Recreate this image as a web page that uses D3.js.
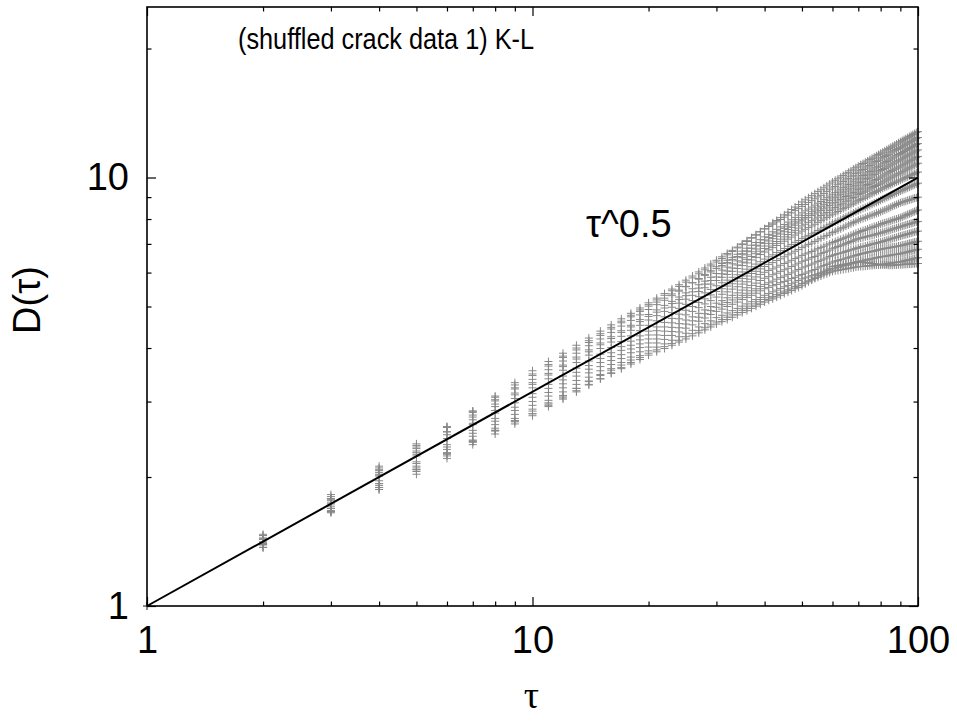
<!DOCTYPE html>
<html lang="en">
<head>
<meta charset="utf-8">
<title>(shuffled crack data 1) K-L</title>
<script src="https://cdn.jsdelivr.net/npm/d3@7"></script>
<style>
  html, body { margin: 0; padding: 0; background: #fff; }
  svg { display: block; font-family: "Liberation Sans", Arial, sans-serif; }
</style>
</head>
<body>
<svg width="957" height="722"></svg>
<script>
// lag tau = 1..100, one D(tau) value per lag for every shuffle
const tau = d3.range(1, 101);

const s01 = [1,1.46,1.80,2.10,2.37,2.62,2.85,3.07,3.28,3.48,3.66,3.83,4.00,4.16,4.32,4.47,4.62,4.77,4.91,5.05,
  5.18,5.31,5.44,5.57,5.70,5.83,5.96,6.09,6.22,6.35,6.47,6.60,6.72,6.85,6.97,7.09,7.22,7.34,7.47,7.59,
  7.71,7.83,7.94,8.06,8.18,8.30,8.42,8.53,8.65,8.77,8.87,8.97,9.07,9.17,9.27,9.36,9.46,9.56,9.66,9.76,
  9.85,9.93,10.02,10.11,10.20,10.28,10.37,10.46,10.54,10.63,10.71,10.78,10.86,10.93,11.01,11.09,11.16,11.24,11.31,11.39,
  11.46,11.54,11.61,11.68,11.76,11.83,11.90,11.97,12.05,12.12,12.19,12.26,12.32,12.39,12.46,12.53,12.60,12.66,12.73,12.80];
const s02 = [1,1.44,1.78,2.08,2.35,2.61,2.85,3.09,3.32,3.54,3.72,3.89,4.06,4.22,4.38,4.53,4.68,4.82,4.96,5.10,
  5.23,5.36,5.49,5.62,5.76,5.89,6.02,6.15,6.28,6.41,6.53,6.65,6.76,6.88,7.00,7.12,7.24,7.35,7.47,7.59,
  7.69,7.78,7.88,7.98,8.08,8.17,8.27,8.37,8.46,8.56,8.65,8.74,8.83,8.92,9.01,9.09,9.18,9.27,9.36,9.45,
  9.53,9.62,9.70,9.79,9.87,9.95,10.04,10.12,10.21,10.29,10.37,10.44,10.52,10.59,10.67,10.75,10.82,10.90,10.97,11.05,
  11.12,11.19,11.26,11.33,11.41,11.48,11.55,11.62,11.69,11.76,11.82,11.89,11.95,12.02,12.08,12.14,12.21,12.27,12.34,12.40];
const s03 = [1,1.47,1.82,2.12,2.39,2.62,2.83,3.03,3.21,3.38,3.56,3.73,3.89,4.05,4.20,4.35,4.50,4.64,4.78,4.92,
  5.05,5.17,5.30,5.43,5.56,5.68,5.81,5.94,6.06,6.19,6.30,6.41,6.51,6.62,6.73,6.84,6.95,7.05,7.16,7.27,
  7.37,7.47,7.57,7.67,7.77,7.87,7.97,8.07,8.17,8.27,8.36,8.44,8.53,8.62,8.71,8.79,8.88,8.97,9.05,9.14,
  9.22,9.30,9.39,9.47,9.55,9.63,9.71,9.80,9.88,9.96,10.03,10.11,10.18,10.25,10.33,10.40,10.47,10.54,10.62,10.69,
  10.76,10.83,10.90,10.97,11.04,11.10,11.17,11.24,11.31,11.38,11.44,11.50,11.57,11.63,11.69,11.75,11.81,11.88,11.94,12.00];
const s04 = [1,1.43,1.76,2.05,2.30,2.55,2.79,3.01,3.23,3.45,3.63,3.80,3.96,4.12,4.28,4.43,4.58,4.73,4.87,5.01,
  5.12,5.23,5.35,5.46,5.57,5.68,5.79,5.91,6.02,6.13,6.23,6.33,6.44,6.54,6.64,6.74,6.84,6.95,7.05,7.15,
  7.24,7.33,7.42,7.51,7.61,7.70,7.79,7.88,7.97,8.06,8.15,8.23,8.32,8.40,8.49,8.57,8.66,8.74,8.83,8.91,
  8.99,9.06,9.14,9.21,9.29,9.36,9.44,9.51,9.59,9.66,9.73,9.80,9.88,9.95,10.02,10.09,10.16,10.24,10.31,10.38,
  10.44,10.50,10.57,10.63,10.69,10.75,10.81,10.88,10.94,11.00,11.06,11.12,11.18,11.24,11.30,11.36,11.42,11.48,11.54,11.60];
const s05 = [1,1.44,1.78,2.07,2.33,2.55,2.76,2.96,3.14,3.32,3.49,3.65,3.81,3.96,4.11,4.25,4.39,4.52,4.66,4.79,
  4.91,5.03,5.14,5.26,5.38,5.50,5.62,5.73,5.85,5.97,6.08,6.18,6.29,6.39,6.50,6.60,6.71,6.81,6.92,7.02,
  7.11,7.20,7.29,7.38,7.47,7.56,7.65,7.74,7.83,7.92,8.00,8.07,8.15,8.22,8.30,8.38,8.45,8.53,8.60,8.68,
  8.75,8.82,8.89,8.96,9.03,9.09,9.16,9.23,9.30,9.37,9.44,9.50,9.57,9.63,9.70,9.76,9.83,9.89,9.96,10.02,
  10.08,10.14,10.20,10.26,10.33,10.39,10.45,10.51,10.57,10.63,10.69,10.74,10.80,10.86,10.92,10.97,11.03,11.09,11.14,11.20];
const s06 = [1,1.41,1.74,2.03,2.28,2.51,2.72,2.92,3.11,3.29,3.46,3.62,3.77,3.92,4.07,4.21,4.35,4.48,4.61,4.74,
  4.85,4.96,5.08,5.19,5.30,5.41,5.52,5.64,5.75,5.86,5.96,6.05,6.15,6.25,6.35,6.44,6.54,6.64,6.73,6.83,
  6.92,7.01,7.09,7.18,7.27,7.36,7.45,7.53,7.62,7.71,7.78,7.86,7.93,8.00,8.08,8.15,8.22,8.29,8.37,8.44,
  8.51,8.58,8.64,8.71,8.78,8.85,8.92,8.98,9.05,9.12,9.18,9.24,9.29,9.35,9.41,9.47,9.53,9.58,9.64,9.70,
  9.76,9.81,9.87,9.92,9.98,10.03,10.09,10.14,10.20,10.25,10.31,10.36,10.42,10.47,10.53,10.58,10.64,10.69,10.75,10.80];
const s07 = [1,1.46,1.77,2.02,2.24,2.46,2.67,2.86,3.05,3.23,3.39,3.55,3.70,3.85,3.99,4.13,4.26,4.40,4.52,4.65,
  4.76,4.87,4.98,5.09,5.20,5.31,5.42,5.53,5.64,5.75,5.85,5.94,6.04,6.13,6.23,6.32,6.42,6.51,6.61,6.70,
  6.78,6.86,6.94,7.02,7.10,7.18,7.26,7.34,7.42,7.50,7.57,7.64,7.71,7.78,7.86,7.93,8.00,8.07,8.14,8.21,
  8.27,8.33,8.40,8.46,8.52,8.58,8.64,8.71,8.77,8.83,8.89,8.94,9.00,9.05,9.11,9.17,9.22,9.28,9.33,9.39,
  9.44,9.49,9.53,9.58,9.63,9.68,9.73,9.77,9.82,9.87,9.91,9.96,10.00,10.04,10.09,10.13,10.17,10.21,10.26,10.30];
const s08 = [1,1.40,1.73,2.01,2.26,2.46,2.65,2.82,2.98,3.13,3.29,3.44,3.59,3.73,3.87,4.01,4.14,4.27,4.39,4.52,
  4.63,4.73,4.84,4.95,5.06,5.16,5.27,5.38,5.48,5.59,5.68,5.76,5.85,5.93,6.02,6.11,6.19,6.28,6.36,6.45,
  6.53,6.60,6.68,6.75,6.83,6.91,6.98,7.06,7.13,7.21,7.27,7.33,7.39,7.45,7.52,7.58,7.64,7.70,7.76,7.82,
  7.88,7.93,7.99,8.04,8.10,8.15,8.21,8.26,8.32,8.37,8.42,8.47,8.51,8.56,8.61,8.66,8.71,8.75,8.80,8.85,
  8.90,8.94,8.99,9.03,9.08,9.12,9.17,9.21,9.26,9.30,9.34,9.38,9.42,9.46,9.50,9.54,9.58,9.62,9.66,9.70];
const s09 = [1,1.41,1.71,1.96,2.17,2.38,2.57,2.74,2.91,3.07,3.22,3.37,3.51,3.64,3.78,3.90,4.03,4.15,4.27,4.38,
  4.48,4.59,4.69,4.80,4.90,5.00,5.11,5.21,5.32,5.42,5.50,5.58,5.65,5.73,5.81,5.89,5.97,6.04,6.12,6.20,
  6.27,6.33,6.40,6.46,6.53,6.60,6.66,6.73,6.79,6.86,6.92,6.98,7.03,7.09,7.15,7.21,7.27,7.32,7.38,7.44,
  7.49,7.54,7.59,7.64,7.70,7.75,7.80,7.85,7.90,7.95,7.99,8.02,8.06,8.10,8.14,8.17,8.21,8.25,8.28,8.32,
  8.36,8.40,8.44,8.48,8.53,8.57,8.61,8.65,8.69,8.73,8.76,8.78,8.81,8.84,8.87,8.89,8.92,8.95,8.97,9.00];
const s10 = [1,1.39,1.69,1.93,2.15,2.35,2.53,2.70,2.86,3.00,3.15,3.30,3.44,3.57,3.70,3.82,3.95,4.06,4.18,4.29,
  4.39,4.48,4.58,4.68,4.78,4.87,4.97,5.07,5.16,5.26,5.34,5.41,5.49,5.56,5.64,5.71,5.79,5.86,5.94,6.01,
  6.07,6.12,6.18,6.24,6.30,6.35,6.41,6.47,6.52,6.58,6.63,6.67,6.72,6.77,6.82,6.86,6.91,6.96,7.00,7.05,
  7.09,7.13,7.17,7.21,7.25,7.29,7.33,7.37,7.41,7.45,7.48,7.52,7.55,7.58,7.62,7.65,7.68,7.71,7.75,7.78,
  7.81,7.84,7.86,7.89,7.92,7.95,7.98,8.00,8.03,8.06,8.09,8.13,8.16,8.20,8.23,8.26,8.30,8.33,8.37,8.40];
const s11 = [1,1.40,1.69,1.93,2.12,2.32,2.49,2.65,2.80,2.94,3.09,3.23,3.36,3.50,3.62,3.74,3.86,3.98,4.09,4.20,
  4.29,4.38,4.47,4.56,4.65,4.73,4.82,4.91,5.00,5.09,5.16,5.24,5.31,5.38,5.46,5.53,5.60,5.67,5.75,5.82,
  5.87,5.93,5.98,6.04,6.09,6.14,6.20,6.25,6.31,6.36,6.41,6.45,6.50,6.54,6.59,6.64,6.68,6.73,6.77,6.82,
  6.86,6.90,6.93,6.97,7.01,7.05,7.09,7.12,7.16,7.20,7.22,7.24,7.27,7.29,7.31,7.33,7.35,7.38,7.40,7.42,
  7.45,7.47,7.50,7.52,7.55,7.58,7.60,7.63,7.65,7.68,7.70,7.72,7.75,7.77,7.79,7.81,7.83,7.86,7.88,7.90];
const s12 = [1,1.37,1.66,1.89,2.08,2.27,2.44,2.60,2.74,2.88,3.02,3.16,3.29,3.42,3.54,3.66,3.78,3.90,4.01,4.11,
  4.20,4.28,4.37,4.46,4.55,4.63,4.72,4.81,4.89,4.98,5.05,5.11,5.18,5.24,5.31,5.37,5.44,5.50,5.57,5.63,
  5.68,5.73,5.79,5.84,5.89,5.94,5.99,6.05,6.10,6.15,6.19,6.24,6.28,6.32,6.37,6.41,6.45,6.49,6.54,6.58,
  6.61,6.64,6.66,6.69,6.72,6.75,6.78,6.80,6.83,6.86,6.88,6.90,6.92,6.94,6.97,6.99,7.01,7.03,7.05,7.07,
  7.09,7.12,7.14,7.16,7.19,7.21,7.23,7.25,7.28,7.30,7.32,7.34,7.36,7.38,7.40,7.42,7.44,7.46,7.48,7.50];
const s13 = [1,1.39,1.67,1.91,2.10,2.28,2.43,2.57,2.70,2.81,2.96,3.09,3.22,3.35,3.47,3.58,3.70,3.81,3.92,4.02,
  4.11,4.19,4.28,4.36,4.45,4.53,4.62,4.70,4.79,4.87,4.93,5.00,5.06,5.12,5.19,5.25,5.31,5.37,5.44,5.50,
  5.54,5.59,5.63,5.68,5.72,5.76,5.81,5.85,5.90,5.94,5.98,6.02,6.06,6.10,6.15,6.19,6.23,6.27,6.31,6.35,
  6.38,6.40,6.43,6.45,6.48,6.51,6.53,6.56,6.58,6.61,6.63,6.65,6.67,6.69,6.71,6.72,6.74,6.76,6.78,6.80,
  6.81,6.83,6.84,6.85,6.87,6.88,6.89,6.90,6.92,6.93,6.95,6.96,6.98,7.00,7.02,7.03,7.05,7.07,7.08,7.10];
const s14 = [1,1.37,1.65,1.87,2.06,2.24,2.41,2.57,2.71,2.85,2.98,3.10,3.22,3.34,3.45,3.55,3.65,3.75,3.84,3.94,
  4.02,4.09,4.17,4.25,4.33,4.40,4.48,4.56,4.63,4.71,4.77,4.83,4.89,4.95,5.01,5.07,5.13,5.19,5.25,5.31,
  5.36,5.41,5.46,5.51,5.56,5.60,5.65,5.70,5.75,5.80,5.83,5.86,5.90,5.93,5.96,5.99,6.02,6.06,6.09,6.12,
  6.14,6.17,6.19,6.22,6.24,6.26,6.29,6.31,6.34,6.36,6.38,6.39,6.41,6.43,6.45,6.46,6.48,6.50,6.51,6.53,
  6.54,6.55,6.56,6.57,6.59,6.60,6.61,6.62,6.63,6.64,6.66,6.67,6.69,6.70,6.72,6.74,6.75,6.77,6.78,6.80];
const s15 = [1,1.39,1.66,1.87,2.03,2.21,2.38,2.52,2.66,2.78,2.92,3.04,3.16,3.28,3.39,3.50,3.60,3.70,3.80,3.89,
  3.96,4.03,4.10,4.17,4.25,4.32,4.39,4.46,4.53,4.60,4.66,4.72,4.78,4.84,4.90,4.95,5.01,5.07,5.13,5.19,
  5.24,5.28,5.33,5.38,5.43,5.47,5.52,5.57,5.61,5.66,5.70,5.74,5.77,5.81,5.85,5.89,5.93,5.96,6.00,6.04,
  6.06,6.07,6.09,6.10,6.12,6.13,6.15,6.16,6.18,6.19,6.20,6.20,6.21,6.22,6.23,6.23,6.24,6.25,6.25,6.26,
  6.27,6.28,6.29,6.30,6.31,6.32,6.33,6.34,6.35,6.36,6.37,6.39,6.40,6.42,6.43,6.44,6.46,6.47,6.49,6.50];
const s16 = [1,1.37,1.66,1.89,2.08,2.26,2.42,2.56,2.69,2.81,2.94,3.06,3.18,3.29,3.39,3.49,3.58,3.67,3.76,3.85,
  3.92,3.99,4.06,4.13,4.20,4.27,4.34,4.41,4.48,4.55,4.61,4.66,4.72,4.78,4.84,4.89,4.95,5.01,5.06,5.12,
  5.17,5.21,5.26,5.31,5.36,5.40,5.45,5.50,5.54,5.59,5.65,5.71,5.77,5.83,5.90,5.96,6.02,6.08,6.14,6.20,
  6.22,6.23,6.25,6.26,6.28,6.30,6.31,6.33,6.34,6.36,6.35,6.34,6.33,6.32,6.31,6.30,6.29,6.28,6.27,6.26,
  6.26,6.25,6.25,6.24,6.24,6.24,6.25,6.25,6.26,6.26,6.26,6.27,6.27,6.28,6.28,6.28,6.29,6.29,6.30,6.30];

const shuffles = [s01, s02, s03, s04, s05, s06, s07, s08, s09, s10, s11, s12, s13, s14, s15, s16];

// guide line tau^0.5, end points
const guide = [[1, 1], [100, 10]];

const xMajor = [1, 10, 100];
const xMinor = [2, 3, 4, 5, 6, 7, 8, 9, 20, 30, 40, 50, 60, 70, 80, 90];
const yMajor = [1, 10];
const yMinor = [2, 3, 4, 5, 6, 7, 8, 9, 20];

const svg = d3.select('svg');
const plotL = 147, plotR = 918, plotT = 7, plotB = 606;
const fs = 38;

const x = d3.scaleLog().domain([1, 100]).range([plotL, plotR]);
const y = d3.scaleLog().domain([1, 25]).range([plotB, plotT]);

// the "+" points, one path per shuffle
const arm = 4;
svg.append('g')
  .selectAll('path')
  .data(shuffles)
  .join('path')
  .attr('d', s => s.map((v, i) => {
    const px = x(tau[i]), py = y(v);
    return 'M' + (px - arm) + ',' + py + 'h' + (2 * arm) + 'M' + px + ',' + (py - arm) + 'v' + (2 * arm);
  }).join(''))
  .attr('fill', 'none')
  .attr('stroke', '#888')
  .attr('stroke-width', 1);

svg.append('path')
  .attr('d', d3.line().x(d => x(d[0])).y(d => y(d[1]))(guide))
  .attr('fill', 'none')
  .attr('stroke', '#000')
  .attr('stroke-width', 2);

// axes, ticks pointing inward on all four sides
function addAxis(axis, tr) {
  const g = svg.append('g').attr('transform', tr).call(axis);
  g.select('.domain').remove();
  g.selectAll('line').attr('stroke', '#000').attr('stroke-width', 1.2);
  g.selectAll('text').attr('fill', '#000');
  g.attr('font-size', fs).attr('font-family', '"Liberation Sans", Arial, sans-serif');
  return g;
}
const fmt = d3.format('d');
addAxis(d3.axisBottom(x).tickValues(xMajor).tickSize(-9).tickPadding(20).tickFormat(fmt), 'translate(0,' + plotB + ')');
addAxis(d3.axisBottom(x).tickValues(xMinor).tickSize(-4.5).tickFormat(''), 'translate(0,' + plotB + ')');
addAxis(d3.axisTop(x).tickValues(xMajor).tickSize(-9).tickFormat(''), 'translate(0,' + plotT + ')');
addAxis(d3.axisTop(x).tickValues(xMinor).tickSize(-4.5).tickFormat(''), 'translate(0,' + plotT + ')');
addAxis(d3.axisLeft(y).tickValues(yMajor).tickSize(-9).tickPadding(18).tickFormat(fmt), 'translate(' + plotL + ',0)');
addAxis(d3.axisLeft(y).tickValues(yMinor).tickSize(-4.5).tickFormat(''), 'translate(' + plotL + ',0)');
addAxis(d3.axisRight(y).tickValues(yMajor).tickSize(-9).tickFormat(''), 'translate(' + plotR + ',0)');
addAxis(d3.axisRight(y).tickValues(yMinor).tickSize(-4.5).tickFormat(''), 'translate(' + plotR + ',0)');

svg.append('rect')
  .attr('x', plotL).attr('y', plotT)
  .attr('width', plotR - plotL).attr('height', plotB - plotT)
  .attr('fill', 'none').attr('stroke', '#000').attr('stroke-width', 1.6);

// labels
svg.append('text')
  .attr('x', 238).attr('y', 49)
  .attr('font-size', 30)
  .attr('textLength', 296)
  .attr('lengthAdjust', 'spacingAndGlyphs')
  .text('(shuffled crack data 1) K-L');

svg.append('text')
  .attr('x', 586).attr('y', 237)
  .attr('font-size', fs)
  .text('τ^0.5');

svg.append('text')
  .attr('transform', 'translate(40,300) rotate(-90)')
  .attr('text-anchor', 'middle')
  .attr('font-size', fs)
  .text('D(τ)');

svg.append('text')
  .attr('x', (plotL + plotR) / 2 - 1).attr('y', 708)
  .attr('text-anchor', 'middle')
  .attr('font-size', fs)
  .attr('font-family', '"Liberation Serif", "DejaVu Serif", serif')
  .text('τ');
</script>
</body>
</html>
